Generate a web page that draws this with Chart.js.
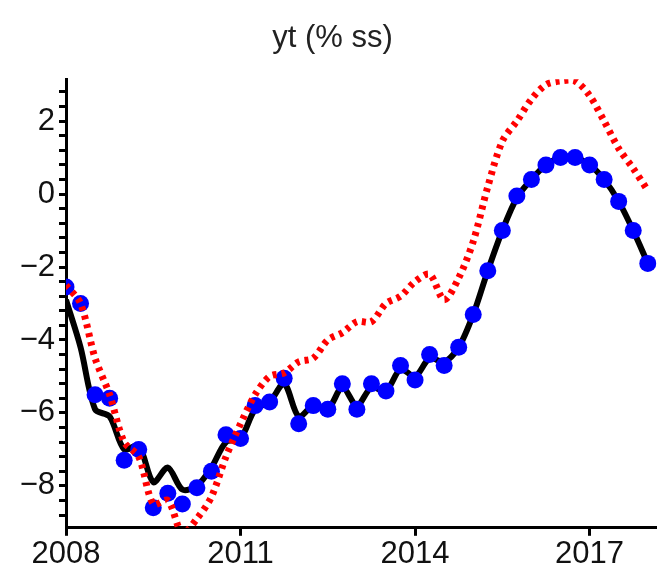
<!DOCTYPE html>
<html>
<head>
<meta charset="utf-8">
<script src="https://cdn.jsdelivr.net/npm/chart.js@4"></script>
<style>
  html, body { margin: 0; padding: 0; background: #fff; }
  #wrap { width: 665px; height: 576px; }
</style>
</head>
<body>
<div id="wrap"><canvas id="c"></canvas></div>
<script>
// quarterly dates 2008Q1 .. 2018Q1
const dates = [
  2008, 2008.25, 2008.5, 2008.75, 2009, 2009.25, 2009.5, 2009.75,
  2010, 2010.25, 2010.5, 2010.75, 2011, 2011.25, 2011.5, 2011.75,
  2012, 2012.25, 2012.5, 2012.75, 2013, 2013.25, 2013.5, 2013.75,
  2014, 2014.25, 2014.5, 2014.75, 2015, 2015.25, 2015.5, 2015.75,
  2016, 2016.25, 2016.5, 2016.75, 2017, 2017.25, 2017.5, 2017.75, 2018
];
const actual = [
  -2.9, -4.2, -5.9, -6.1, -7.0, -6.9, -7.9, -7.5,
  -8.1, -8.0, -7.5, -6.8, -6.7, -5.9, -5.7, -5.2,
  -6.1, -5.8, -5.9, -5.3, -5.8, -5.3, -5.4, -4.8,
  -5.0, -4.5, -4.6, -4.2, -3.3, -2.1, -1.0, -0.1,
  0.4, 0.8, 1.0, 1.0, 0.8, 0.4, -0.2, -1.0, -1.9
];
const model = [
  -2.55, -3.0, -5.5, -5.6, -7.3, -7.0, -8.6, -8.2,
  -8.5, -8.05, -7.6, -6.6, -6.7, -5.8, -5.7, -5.05,
  -6.3, -5.8, -5.9, -5.2, -5.9, -5.2, -5.4, -4.7,
  -5.1, -4.4, -4.7, -4.2, -3.3, -2.1, -1.0, -0.05,
  0.4, 0.8, 1.0, 1.0, 0.8, 0.4, -0.2, -1.0, -1.9
];
const counterfactual = [
  -2.5, -3.0, -4.5, -5.5, -6.8, -7.2, -8.5, -8.4,
  -9.3, -8.9, -8.3, -7.2, -6.3, -5.5, -5.0, -4.9,
  -4.6, -4.5, -4.0, -3.8, -3.5, -3.5, -3.0, -2.8,
  -2.4, -2.2, -2.9, -2.3, -1.3, 0.2, 1.45, 2.0,
  2.6, 3.0, 3.1, 3.1, 2.7, 2.0, 1.25, 0.7, 0.1
];
const xTicks = [2008, 2011, 2014, 2017];
const yMajor = [-8, -6, -4, -2, 0, 2];

const pts = arr => arr.map((v, i) => ({ x: dates[i], y: v }));
const font = { family: "'Liberation Sans', Arial, sans-serif", size: 31 };

new Chart(document.getElementById("c"), {
  type: "line",
  data: {
    datasets: [
      {
        data: pts(counterfactual),
        borderColor: "#ff0000",
        borderWidth: 7,
        borderDash: [4, 5],
        pointRadius: 0,
        tension: 0.3,
        order: 1
      },
      {
        data: pts(model),
        borderColor: "rgba(0,0,0,0)",
        backgroundColor: "#0000ff",
        pointRadius: 8.5,
        pointBorderWidth: 0,
        showLine: false,
        order: 2
      },
      {
        data: pts(actual),
        borderColor: "#000000",
        borderWidth: 6,
        pointRadius: 0,
        tension: 0.3,
        order: 3
      }
    ]
  },
  options: {
    responsive: true,
    maintainAspectRatio: false,
    animation: false,
    layout: { padding: { left: 0, right: 0, top: 16, bottom: 3 } },
    plugins: {
      legend: { display: false },
      tooltip: { enabled: false },
      title: {
        display: true,
        text: "yt (% ss)",
        color: "#222",
        font: { family: font.family, size: 31, weight: "normal" },
        padding: { top: 4, bottom: 22 }
      }
    },
    scales: {
      x: {
        type: "linear",
        min: 2008,
        max: 2018.15,
        afterBuildTicks: ax => { ax.ticks = xTicks.map(v => ({ value: v })); },
        grid: { display: true, drawOnChartArea: false, drawTicks: true, tickLength: 8, tickWidth: 3, color: "#000", tickColor: "#000" },
        border: { color: "#000", width: 3 },
        ticks: { color: "#111", font: font, padding: 0, maxRotation: 0, callback: v => String(v) }
      },
      y: {
        min: -9.15,
        max: 3.15,
        afterFit: ax => { ax.width = 66; },
        afterBuildTicks: ax => {
          const t = [];
          for (let k = -45; k <= 15; k++) t.push({ value: k * 0.2 });
          ax.ticks = t.filter((o, i) => (i % 2 === 1) || yMajor.some(m => Math.abs(m - o.value) < 1e-6));
        },
        grid: { display: true, drawOnChartArea: false, drawTicks: true, tickLength: 7, tickWidth: 3, color: "#000", tickColor: "#000" },
        border: { color: "#000", width: 3 },
        ticks: {
          color: "#111",
          font: font,
          padding: 4,
          autoSkip: false,
          callback: v => {
            const m = yMajor.find(q => Math.abs(q - v) < 1e-6);
            if (m === undefined) return "";
            return m < 0 ? "\u2212" + Math.abs(m) : String(m);
          }
        }
      }
    }
  }
});
</script>
</body>
</html>
